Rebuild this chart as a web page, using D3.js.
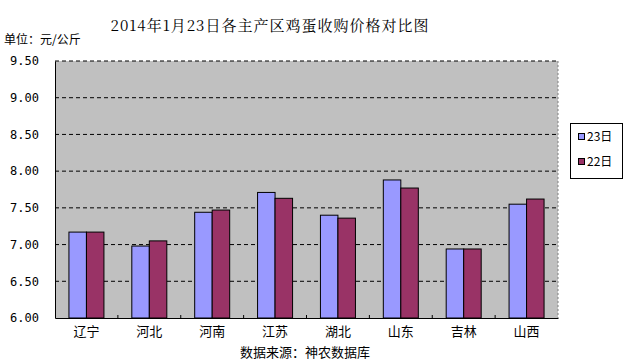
<!DOCTYPE html>
<html>
<head>
<meta charset="utf-8">
<script src="https://cdn.jsdelivr.net/npm/d3@7"></script>
<style>
body { margin: 0; background: #fff; }
text { font-family: "Noto Sans CJK SC", "DejaVu Sans", sans-serif; }
</style>
</head>
<body>
<script>
// data
var provinces = ["辽宁", "河北", "河南", "江苏", "湖北", "山东", "吉林", "山西"];
var seriesNames = ["23日", "22日"];
var day23 = [7.17, 6.98, 7.44, 7.71, 7.40, 7.88, 6.94, 7.55];
var day22 = [7.17, 7.05, 7.47, 7.63, 7.36, 7.77, 6.94, 7.62];
var yTicks = [6.00, 6.50, 7.00, 7.50, 8.00, 8.50, 9.00, 9.50];
var colors = ["#9999ff", "#993366"];

var svg_w = 624, svg_h = 364;
var svg = d3.select("body").append("svg")
	.attr("width", svg_w)
	.attr("height", svg_h);

var plot = {left: 55, right: 558, top: 61, bottom: 318};

var x = d3.scaleBand()
	.domain(provinces)
	.range([plot.left, plot.right]);

var y = d3.scaleLinear()
	.domain([6, 9.5])
	.range([plot.bottom, plot.top]);

var xs = d3.scaleBand()
	.domain(seriesNames)
	.range([0, 35]);

// title
svg.append("text")
	.attr("x", 270).attr("y", 31)
	.attr("text-anchor", "middle")
	.style("font-family", "'Noto Serif CJK SC', 'DejaVu Serif', serif")
	.style("font-size", "15px")
	.style("letter-spacing", "1px")
	.text("2014年1月23日各主产区鸡蛋收购价格对比图");

svg.append("text")
	.attr("x", 4).attr("y", 44)
	.style("font-size", "12px")
	.text("单位：元/公斤");

// plot background
svg.append("rect")
	.attr("x", plot.left).attr("y", plot.top)
	.attr("width", plot.right - plot.left)
	.attr("height", plot.bottom - plot.top)
	.attr("fill", "#c0c0c0");

// grid lines
svg.append("g").selectAll("line")
	.data(yTicks.slice(1))
	.enter().append("line")
	.attr("x1", plot.left).attr("x2", plot.right)
	.attr("y1", d => y(d)).attr("y2", d => y(d))
	.attr("stroke", "#000")
	.attr("stroke-dasharray", "4,3");

// right border
svg.append("line")
	.attr("x1", plot.right).attr("x2", plot.right)
	.attr("y1", plot.top).attr("y2", plot.bottom)
	.attr("stroke", "#808080")
	.attr("stroke-dasharray", "2,2");

// bars
var series = [day23, day22];
series.forEach(function(vals, si) {
	svg.append("g").selectAll("rect")
		.data(vals)
		.enter().append("rect")
		.attr("x", (d, i) => x(provinces[i]) + (x.bandwidth() - 35) / 2 + xs(seriesNames[si]))
		.attr("y", d => y(d))
		.attr("width", xs.bandwidth())
		.attr("height", d => y(6) - y(d))
		.attr("fill", colors[si])
		.attr("stroke", "#000")
		.attr("stroke-width", 1);
});

// y axis
var yAxis = svg.append("g")
	.attr("transform", "translate(" + plot.left + ",0)")
	.call(d3.axisLeft(y).tickValues(yTicks).tickFormat(d3.format(".2f")).tickSize(0).tickPadding(16));
yAxis.select(".domain").attr("stroke", "#000");
yAxis.selectAll("text")
	.style("font-family", "'DejaVu Sans Mono', monospace")
	.style("font-size", "12px")
	.attr("fill", "#000");

// x axis
var xAxis = svg.append("g")
	.attr("transform", "translate(0," + plot.bottom + ")")
	.call(d3.axisBottom(x).tickSize(0).tickPadding(9));
xAxis.select(".domain").attr("stroke", "#000");
xAxis.selectAll("text")
	.style("font-size", "13px")
	.attr("fill", "#000");

// category boundary ticks
svg.append("g").selectAll("line")
	.data(provinces.slice(1))
	.enter().append("line")
	.attr("x1", d => x(d)).attr("x2", d => x(d))
	.attr("y1", plot.bottom).attr("y2", plot.bottom - 3)
	.attr("stroke", "#000");

svg.append("text")
	.attr("x", 305).attr("y", 357)
	.attr("text-anchor", "middle")
	.style("font-size", "13px")
	.text("数据来源：神农数据库");

// legend
var legend = svg.append("g");
legend.append("rect")
	.attr("x", 570.5).attr("y", 123.5)
	.attr("width", 52).attr("height", 55)
	.attr("fill", "#fff")
	.attr("stroke", "#000");
seriesNames.forEach(function(name, i) {
	legend.append("rect")
		.attr("x", 578.5).attr("y", 133.5 + i * 25)
		.attr("width", 6).attr("height", 6)
		.attr("fill", colors[i])
		.attr("stroke", "#000");
	legend.append("text")
		.attr("x", 587).attr("y", 141 + i * 25)
		.style("font-size", "12px")
		.text(name);
});
</script>
</body>
</html>
